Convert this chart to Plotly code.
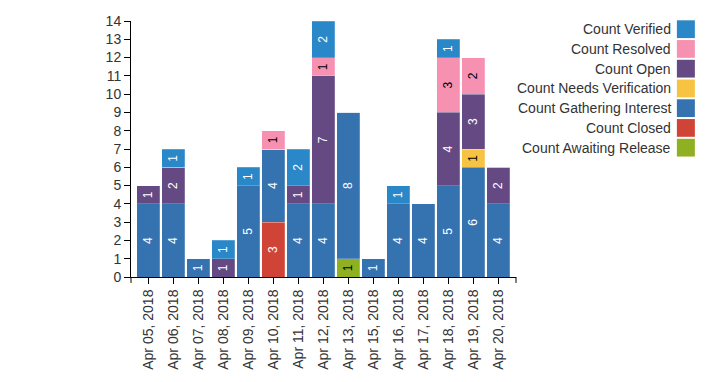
import plotly.graph_objects as go

dates = ["Apr 05, 2018", "Apr 06, 2018", "Apr 07, 2018", "Apr 08, 2018", "Apr 09, 2018",
         "Apr 10, 2018", "Apr 11, 2018", "Apr 12, 2018", "Apr 13, 2018", "Apr 15, 2018",
         "Apr 16, 2018", "Apr 17, 2018", "Apr 18, 2018", "Apr 19, 2018", "Apr 20, 2018"]

awaiting_release   = [0, 0, 0, 0, 0, 0, 0, 0, 1, 0, 0, 0, 0, 0, 0]
closed             = [0, 0, 0, 0, 0, 3, 0, 0, 0, 0, 0, 0, 0, 0, 0]
gathering_interest = [4, 4, 1, 0, 5, 4, 4, 4, 8, 1, 4, 4, 5, 6, 4]
needs_verification = [0, 0, 0, 0, 0, 0, 0, 0, 0, 0, 0, 0, 0, 1, 0]
count_open         = [1, 2, 0, 1, 0, 0, 1, 7, 0, 0, 0, 0, 4, 3, 2]
resolved           = [0, 0, 0, 0, 0, 1, 0, 1, 0, 0, 0, 0, 3, 2, 0]
verified           = [0, 1, 0, 1, 1, 0, 2, 2, 0, 0, 1, 0, 1, 0, 0]

y_ticks = list(range(0, 15))

series = [
    ("Count Awaiting Release", awaiting_release, "#8eb021", "black"),
    ("Count Closed", closed, "#d04437", "white"),
    ("Count Gathering Interest", gathering_interest, "#3572b0", "white"),
    ("Count Needs Verification", needs_verification, "#f6c342", "black"),
    ("Count Open", count_open, "#654982", "white"),
    ("Count Resolved", resolved, "#f691b2", "black"),
    ("Count Verified", verified, "#2a87c8", "white"),
]

FONT = "Arial, Liberation Sans, sans-serif"
W, H = 722, 382
L, R, T, B = 130.7, 516, 20.7, 280

fig = go.Figure()
for name, vals, color, tcolor in series:
    fig.add_trace(go.Bar(
        name=name, x=dates, y=vals,
        marker=dict(color=color, line=dict(width=0.6, color="rgba(255,255,255,0.35)")),
        text=[str(v) if v else "" for v in vals],
        textposition="inside", insidetextanchor="middle",
        textangle=-90, constraintext="none",
        textfont=dict(family=FONT, size=12, color=tcolor),
        showlegend=False, hoverinfo="x+y+name",
    ))

def px_x(p):
    return (p - L) / (R - L)

def px_y(p):
    return (B - p) / (B - T)

# custom legend (text right-aligned, swatch on the right)
legend_order = list(reversed(series))
for i, (name, vals, color, tcolor) in enumerate(legend_order):
    top = 20 + 20 * i
    fig.add_shape(type="rect", xref="paper", yref="paper",
                  x0=px_x(677), x1=px_x(695), y0=px_y(top + 18), y1=px_y(top),
                  fillcolor=color, line=dict(width=0))
    fig.add_annotation(xref="paper", yref="paper", x=px_x(673), y=px_y(top + 9),
                       text=name, showarrow=False, xanchor="right", yanchor="middle",
                       font=dict(family=FONT, size=14, color="#333"))

# outer ticks at the ends of the x-axis domain
for xp in (0, 1):
    fig.add_shape(type="line", xref="paper", yref="paper",
                  x0=xp, x1=xp, y0=0, y1=px_y(B + 6),
                  line=dict(color="black", width=1))

fig.update_layout(
    width=W, height=H,
    margin=dict(l=L, r=W - R, t=T, b=H - B, pad=0),
    barmode="stack", bargap=0.08,
    plot_bgcolor="white", paper_bgcolor="white",
    font=dict(family=FONT, size=14, color="#333"),
    xaxis=dict(type="category", range=[-0.68, 14.72], tickangle=-90,
               showline=True, linecolor="black", linewidth=1,
               ticks="outside", ticklen=6, tickcolor="black",
               showgrid=False, zeroline=False, tickfont=dict(size=14)),
    yaxis=dict(range=[0, 14], tickvals=y_ticks, showline=True, linecolor="black",
               linewidth=1, ticks="outside", ticklen=6, tickcolor="black",
               showgrid=False, zeroline=False, tickfont=dict(size=14)),
)

fig.write_html("out.html", config={"displayModeBar": False},
               post_script="document.body.style.margin='0';document.body.style.padding='0';")
